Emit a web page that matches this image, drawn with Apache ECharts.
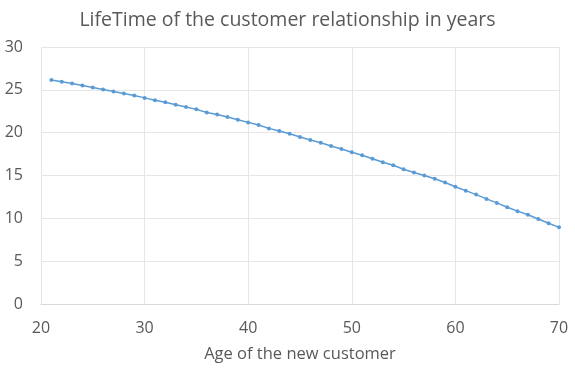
<!DOCTYPE html>
<html><head><meta charset="utf-8">
<script src="https://cdn.jsdelivr.net/npm/echarts@6/dist/echarts.min.js"></script>
<style>html,body{margin:0;padding:0;background:#fff}#c{width:575px;height:368px}</style>
</head><body><div id="c"></div>
<script>
const ages = [21,22,23,24,25,26,27,28,29,30,31,32,33,34,35,36,37,38,39,40,41,42,43,44,45,46,47,48,49,50,51,52,53,54,55,56,57,58,59,60,61,62,63,64,65,66,67,68,69,70];
const lifetime = [26.15,25.94,25.75,25.51,25.28,25.04,24.80,24.57,24.33,24.06,23.78,23.54,23.27,23.00,22.72,22.36,22.13,21.82,21.51,21.20,20.89,20.50,20.19,19.88,19.49,19.14,18.83,18.45,18.10,17.71,17.36,16.95,16.54,16.19,15.73,15.35,15.00,14.62,14.19,13.69,13.23,12.77,12.27,11.80,11.30,10.84,10.42,9.92,9.42,8.95];
const titleText = 'LifeTime of the customer relationship in years';
const xName = 'Age of the new customer';

const chart = echarts.init(document.getElementById('c'), null, {renderer:'canvas'});
const font = 'Open Sans';
chart.setOption({
  animation:false,
  title:{text:titleText,left:'center',top:5,textStyle:{fontFamily:font,fontSize:19.5,fontWeight:'normal',color:'#595959'}},
  grid:{left:41,right:16,top:47,bottom:64,containLabel:false},
  xAxis:{type:'value',min:20,max:70,interval:10,
    name:xName,nameLocation:'middle',nameGap:42,
    nameTextStyle:{fontFamily:font,fontSize:16.5,color:'#595959'},
    axisLine:{show:true,lineStyle:{color:'#d9d9d9'}},axisTick:{show:false},
    axisLabel:{fontFamily:font,fontSize:16,color:'#595959',margin:16},
    splitLine:{show:true,lineStyle:{color:'#e6e6e6'}}},
  yAxis:{type:'value',min:0,max:30,interval:5,
    axisLine:{show:false},axisTick:{show:false},
    axisLabel:{fontFamily:font,fontSize:16,color:'#595959',margin:18},
    splitLine:{show:true,lineStyle:{color:'#e6e6e6'}}},
  series:[{type:'line',data:ages.map((a,i)=>[a,lifetime[i]]),
    symbol:'circle',symbolSize:4,showSymbol:true,
    lineStyle:{color:'#5B9BD5',width:1.5},itemStyle:{color:'#5B9BD5'}}]
});
</script></body></html>
